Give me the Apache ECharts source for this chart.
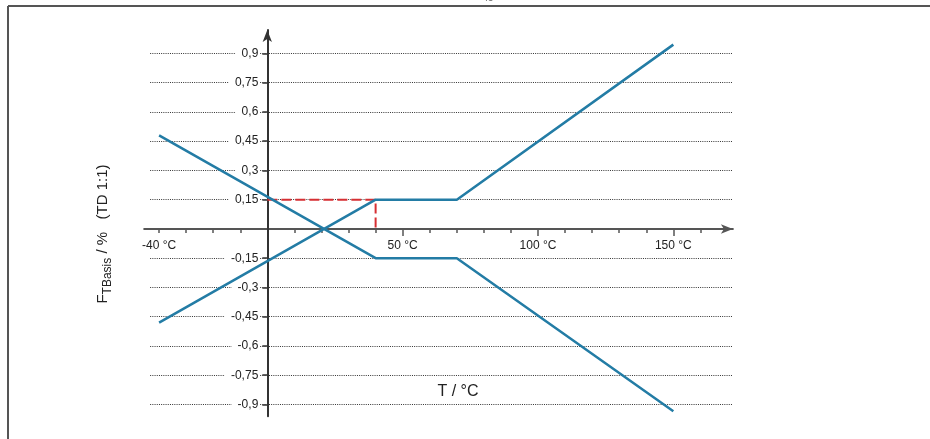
<!DOCTYPE html>
<html lang="en">

<head>
    <meta charset="UTF-8">
    <title>F_TBasis</title>
    <style>
        html,
        body {
            margin: 0;
            padding: 0;
            width: 930px;
            height: 439px;
            background-color: #fff;
            overflow: hidden;
        }
    </style>
</head>

<body>
    <div id="chart" style="width: 930px; height: 439px;"></div>
    <script src="https://cdn.jsdelivr.net/npm/echarts@6/dist/echarts.min.js"></script>
    <script>
        // values
        const upperLine = [[-40, 0.48], [40, -0.15], [70, -0.15], [150, -0.935]]
        const lowerLine = [[-40, -0.48], [40, 0.15], [70, 0.15], [150, 0.945]]
        const redGuide = [[0, 0.15], [40, 0.15], [40, 0]]
        const xMinorTicks = [-40, -30, -20, -10, 10, 20, 30, 40, 60, 70, 80, 90, 110, 120, 130, 140, 160]
        const xMajorTicks = [50, 100, 150]
        const xLabels = [-40, 50, 100, 150]
        const yTicks = [-0.9, -0.75, -0.6, -0.45, -0.3, -0.15, 0.15, 0.3, 0.45, 0.6, 0.75, 0.9]

        const FONT = 'Liberation Sans'
        const BLUE = '#237ca5'
        const xMin = -45.5, xMax = 172

        // plot box, the axes cross at (0, 0) inside it
        const grid = { left: 144.2, right: 197.1, top: 30, bottom: 22.8 }
        const yAxisShift = 123.1   // px from grid left to x = 0
        const xAxisShift = 187.2   // px from grid bottom to y = 0

        // width of text, to lay out the rotated axis title
        const ctx = document.createElement('canvas').getContext('2d')
        function textWidth(str, size) {
            ctx.font = size + 'px "' + FONT + '"'
            return ctx.measureText(str).width
        }

        const titleParts = [
            { text: 'F', size: 15, dy: 0 },
            { text: 'TBasis', size: 12, dy: 5 },
            { text: ' / %   (TD 1:1)', size: 15, dy: 0 }
        ]
        const titleLen = titleParts.reduce((s, p) => s + textWidth(p.text, p.size), 0)
        let cursor = -titleLen / 2
        const titleChildren = titleParts.map(p => {
            const el = {
                type: 'text',
                x: cursor,
                y: p.dy,
                style: {
                    text: p.text,
                    fontFamily: FONT,
                    fontSize: p.size,
                    fill: '#222',
                    align: 'left',
                    verticalAlign: 'middle'
                }
            }
            cursor += textWidth(p.text, p.size)
            return el
        })

        const chart = echarts.init(document.getElementById('chart'))

        const xAxisBase = {
            type: 'value',
            min: xMin,
            max: xMax,
            position: 'bottom',
            offset: -xAxisShift,
            splitLine: { show: false }
        }

        chart.setOption({
            animation: false,
            grid: grid,
            xAxis: [
                Object.assign({}, xAxisBase, {
                    axisLine: {
                        onZero: false,
                        symbol: ['none', 'arrow'],
                        symbolSize: [7, 12],
                        lineStyle: { color: '#555', width: 2 }
                    },
                    axisTick: { customValues: xMinorTicks, length: 4, lineStyle: { color: '#555', width: 1.5 } },
                    axisLabel: { show: false }
                }),
                Object.assign({}, xAxisBase, {
                    axisLine: { show: false, onZero: false },
                    axisTick: { customValues: xMajorTicks, length: 7, lineStyle: { color: '#555', width: 1.5 } },
                    axisLabel: {
                        customValues: xLabels,
                        formatter: v => v + ' °C',
                        margin: 11,
                        fontFamily: FONT,
                        fontSize: 12,
                        color: '#222'
                    }
                })
            ],
            yAxis: {
                type: 'value',
                min: -0.96,
                max: 1.02,
                position: 'left',
                offset: -yAxisShift,
                z: 1,
                axisLine: {
                    onZero: false,
                    symbol: ['none', 'arrow'],
                    symbolSize: [7, 12],
                    lineStyle: { color: '#333', width: 2 }
                },
                axisTick: { customValues: yTicks, length: 5, lineStyle: { color: '#333', width: 1.5 } },
                axisLabel: {
                    customValues: yTicks,
                    formatter: v => String(v).replace('.', ','),
                    margin: 8,
                    fontFamily: FONT,
                    fontSize: 12,
                    color: '#222',
                    backgroundColor: '#fff',
                    padding: [0, 1, 0, 6]
                },
                splitLine: { show: false }
            },
            series: [
                {
                    type: 'line',
                    data: [],
                    silent: true,
                    markLine: {
                        z: 0,
                        silent: true,
                        symbol: 'none',
                        label: { show: false },
                        lineStyle: { color: '#333', type: [1, 1.2], width: 1 },
                        data: yTicks.map(v => [{ xAxis: -43.3, yAxis: v }, { xAxis: xMax, yAxis: v }])
                    }
                },
                {
                    type: 'line',
                    data: redGuide,
                    z: 3,
                    symbol: 'none',
                    lineStyle: { color: '#d62f33', width: 2, type: [10, 4] }
                },
                {
                    type: 'line',
                    data: upperLine,
                    z: 4,
                    symbol: 'none',
                    lineStyle: { color: BLUE, width: 2.5 }
                },
                {
                    type: 'line',
                    data: lowerLine,
                    z: 4,
                    symbol: 'none',
                    lineStyle: { color: BLUE, width: 2.5 }
                }
            ],
            graphic: [
                // frame
                { type: 'line', shape: { x1: 8, y1: 6, x2: 930, y2: 6 }, style: { stroke: '#555', lineWidth: 2 } },
                { type: 'line', shape: { x1: 8, y1: 6, x2: 8, y2: 439 }, style: { stroke: '#555', lineWidth: 2 } },
                // cut-off figure code above the frame
                { type: 'text', x: 488, y: -7, style: { text: '45', fontFamily: FONT, fontSize: 10, fill: '#666', align: 'center' } },
                {
                    type: 'text',
                    x: 458,
                    y: 392,
                    style: {
                        text: 'T / °C',
                        fontFamily: FONT,
                        fontSize: 16,
                        fill: '#222',
                        align: 'center',
                        verticalAlign: 'middle'
                    }
                },
                {
                    type: 'group',
                    x: 103,
                    y: 234,
                    rotation: Math.PI / 2,
                    children: titleChildren
                }
            ]
        })
    </script>
</body>

</html>
